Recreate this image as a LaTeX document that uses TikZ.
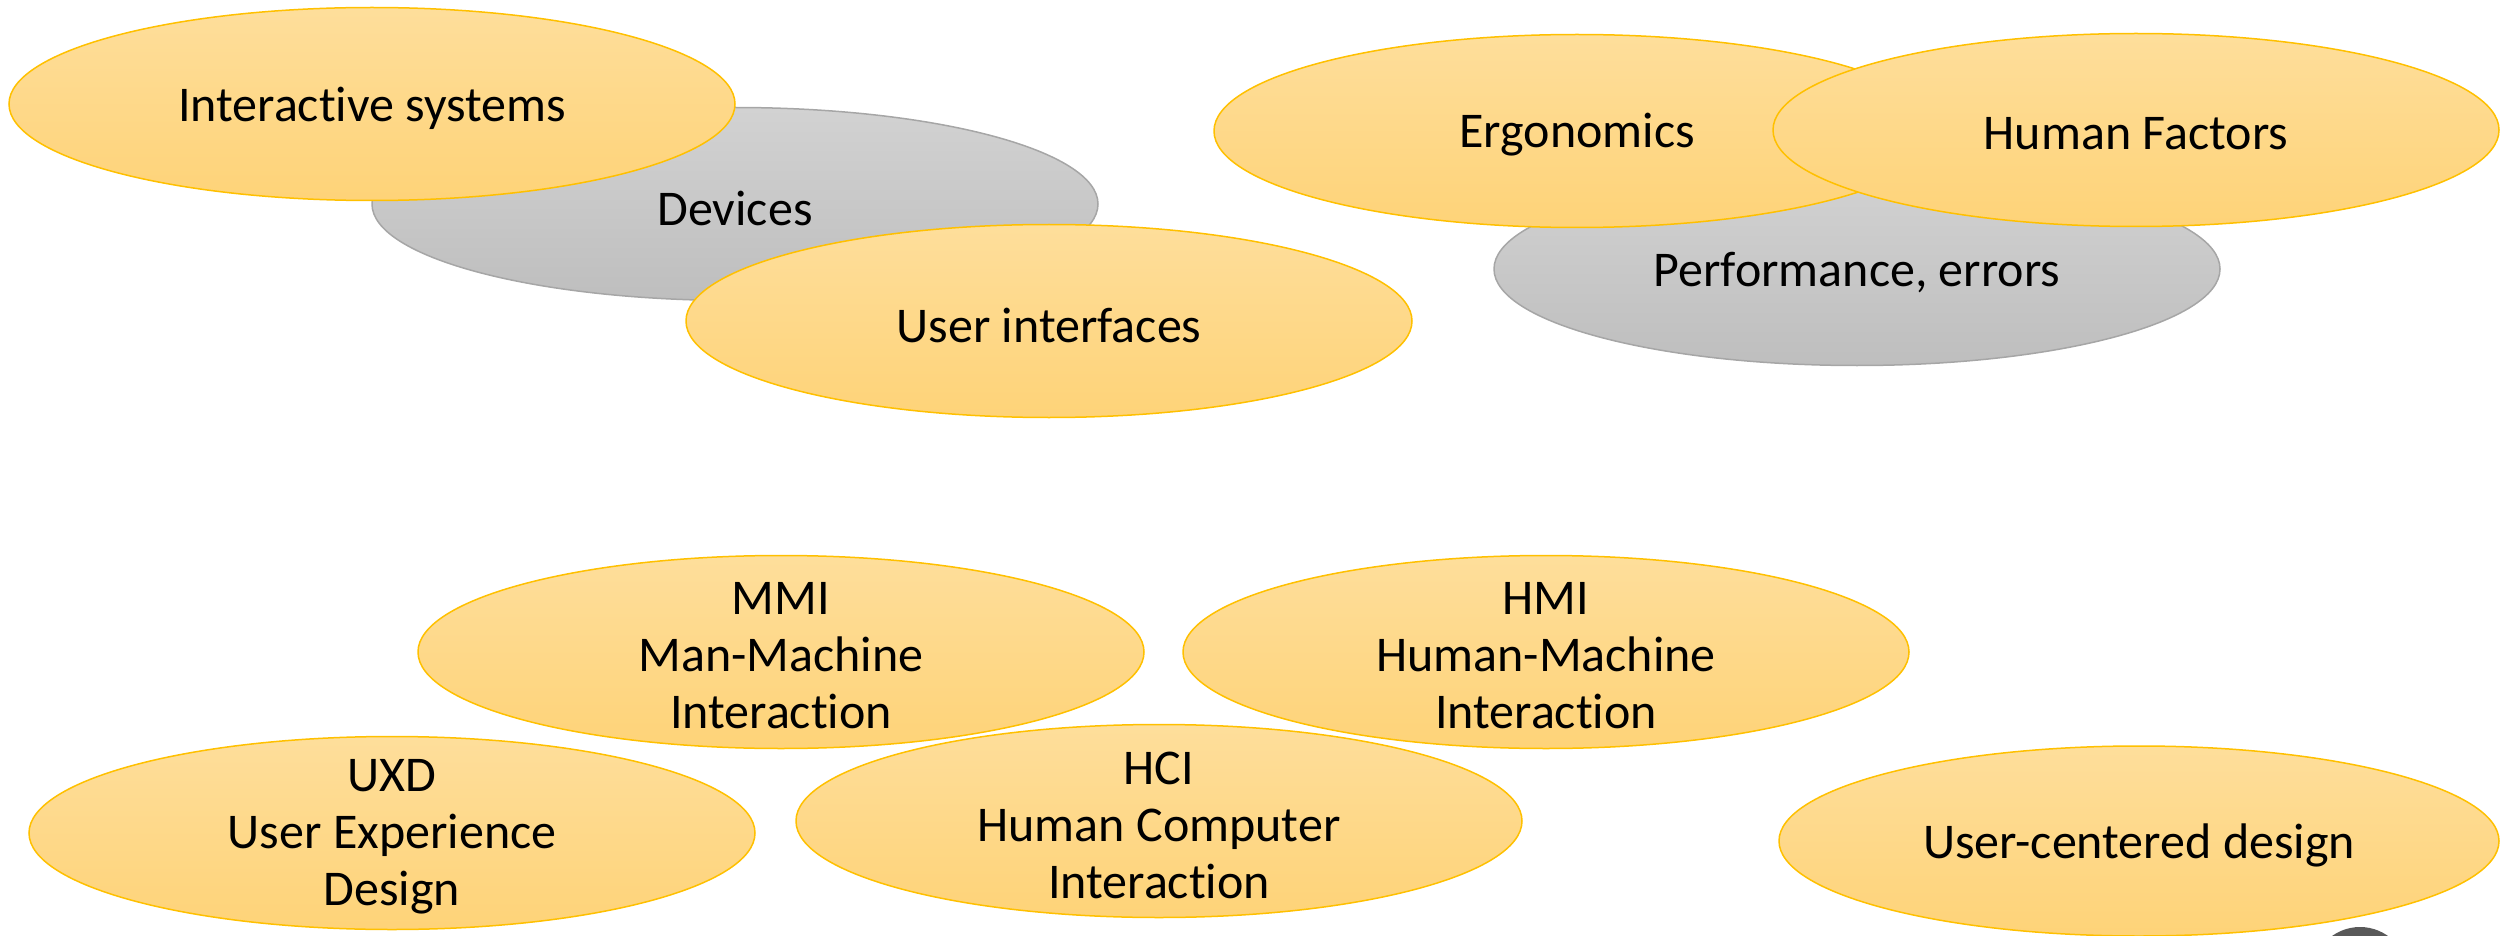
\documentclass[tikz,border=0pt]{standalone}
\usepackage{fontspec}
\setmainfont{Carlito}[Ligatures=NoCommon]
\usetikzlibrary{shapes.geometric}
\definecolor{orfillA}{RGB}{254,222,155}
\definecolor{orfillB}{RGB}{254,211,120}
\definecolor{ordraw}{RGB}{255,192,0}
\definecolor{grfillA}{RGB}{210,210,210}
\definecolor{grfillB}{RGB}{190,190,190}
\definecolor{grdraw}{RGB}{166,166,166}
\definecolor{badgegray}{RGB}{89,89,89}
\begin{document}
\begin{tikzpicture}[x=1pt,y=-1pt,
  oell/.style={ellipse, draw=ordraw, line width=1.5pt, top color=orfillA, bottom color=orfillB,
    minimum width=726pt, minimum height=193pt, inner sep=0pt},
  gell/.style={ellipse, draw=grdraw, line width=1.5pt, top color=grfillA, bottom color=grfillB,
    minimum width=726pt, minimum height=193pt, inner sep=0pt},
  lbl/.style={font=\fontsize{50}{57}\selectfont, align=center, text=black, inner sep=0pt, yshift=-4pt}]
\useasboundingbox (0,0) rectangle (2501,936);
% top left group
\node[gell] (dev) at (735,204) {};
\node[lbl] (devt) at (dev.center) {Devices};
\node[oell] (is) at (372,104) {};
\node[lbl] (ist) at (is.center) {Interactive systems};
\node[oell] (ui) at (1049,321) {};
\node[lbl] (uit) at (ui.center) {User interfaces};
% top right group
\node[gell] (perf) at (1857,269) {};
\node[lbl] (perft) at (perf.center) {Performance, errors};
\node[oell] (erg) at (1577,131) {};
\node[lbl] (ergt) at (erg.center) {Ergonomics};
\node[oell] (hf) at (2136,130) {};
\node[lbl] (hft) at (hf.center) {Human Factors};
% bottom group
\node[oell] (mmi) at (781,652) {};
\node[lbl] (mmit) at (mmi.center) {MMI\\Man-Machine\\Interaction};
\node[oell] (hmi) at (1546,652) {};
\node[lbl] (hmit) at (hmi.center) {HMI\\Human-Machine\\Interaction};
\node[oell] (uxd) at (392,833) {};
\node[lbl] (uxdt) at (uxd.center) {UXD\\User Experience\\Design};
\node[oell] (hci) at (1159,821) {};
\node[lbl] (hcit) at (hci.center) {HCI\\Human Computer\\Interaction};
\node[oell, minimum width=720pt, minimum height=190pt] (ucd) at (2139,841) {};
\node[lbl] (ucdt) at (ucd.center) {User-centered design};
% badge at the bottom right
\node[circle, fill=badgegray, minimum size=96pt, inner sep=0pt] (badge) at (2360,975) {};
\end{tikzpicture}
\end{document}
